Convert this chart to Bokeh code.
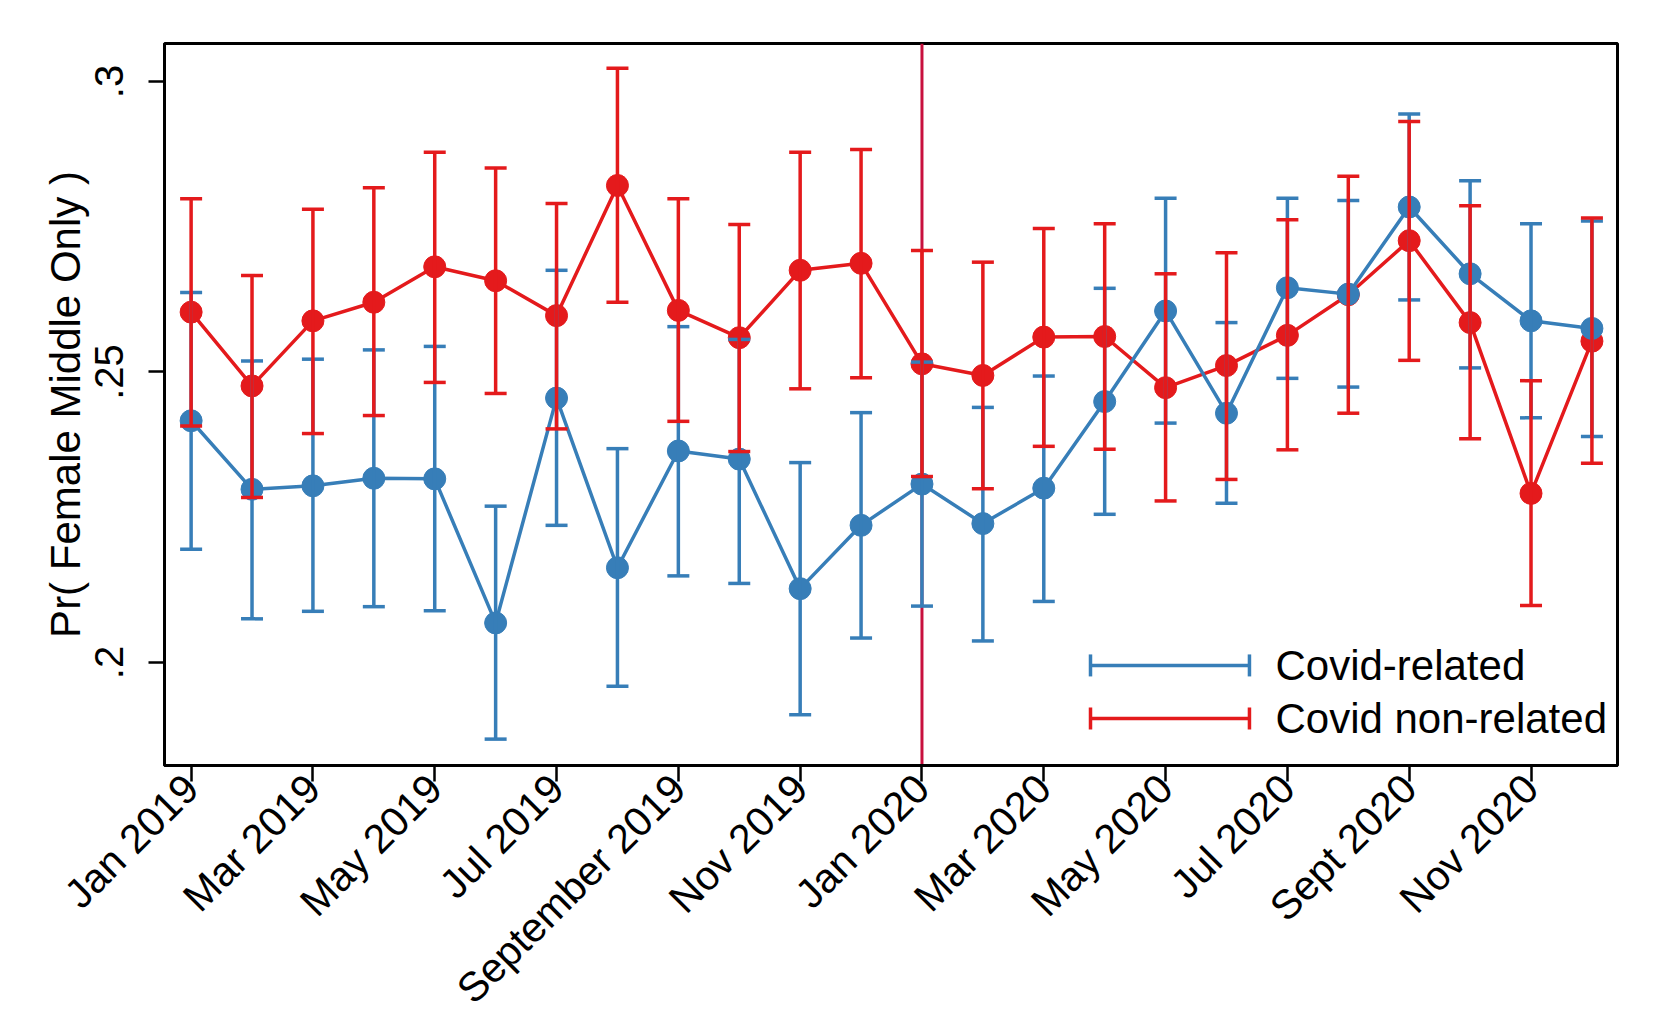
import math
from bokeh.plotting import figure
from bokeh.models import (ColumnDataSource, Whisker, TeeHead, Span, Label, Range1d,
                          FixedTicker)
from bokeh.embed import file_html
from bokeh.resources import INLINE

# ---------------- data ----------------
month_index = list(range(24))
tick_positions = [0, 2, 4, 6, 8, 10, 12, 14, 16, 18, 20, 22]
tick_labels = ["Jan 2019", "Mar 2019", "May 2019", "Jul 2019", "September 2019",
               "Nov 2019", "Jan 2020", "Mar 2020", "May 2020", "Jul 2020",
               "Sept 2020", "Nov 2020"]

covid_mean = [0.2416, 0.2298, 0.2304, 0.2317, 0.2316, 0.2068, 0.2455, 0.2163,
              0.2364, 0.2350, 0.2127, 0.2236, 0.2307, 0.2239, 0.2300, 0.2449,
              0.2605, 0.2429, 0.2645, 0.2634, 0.2784, 0.2669, 0.2588, 0.2575]
covid_hi = [0.2637, 0.2519, 0.2522, 0.2538, 0.2544, 0.2269, 0.2675, 0.2368,
            0.2578, 0.2556, 0.2344, 0.2430, 0.2517, 0.2439, 0.2493, 0.2644,
            0.2799, 0.2585, 0.2799, 0.2795, 0.2944, 0.2829, 0.2755, 0.2760]
covid_lo = [0.2195, 0.2075, 0.2088, 0.2096, 0.2089, 0.1868, 0.2236, 0.1959,
            0.2149, 0.2136, 0.1910, 0.2042, 0.2097, 0.2037, 0.2105, 0.2255,
            0.2412, 0.2274, 0.2489, 0.2474, 0.2624, 0.2507, 0.2421, 0.2389]

noncovid_mean = [0.2603, 0.2476, 0.2588, 0.2620, 0.2681, 0.2657, 0.2597, 0.2821,
                 0.2606, 0.2559, 0.2675, 0.2687, 0.2514, 0.2494, 0.2560, 0.2561,
                 0.2473, 0.2511, 0.2563, 0.2633, 0.2726, 0.2585, 0.2291, 0.2553]
noncovid_hi = [0.2798, 0.2666, 0.2780, 0.2817, 0.2878, 0.2851, 0.2790, 0.3023,
               0.2798, 0.2754, 0.2878, 0.2883, 0.2709, 0.2689, 0.2747, 0.2755,
               0.2669, 0.2705, 0.2762, 0.2837, 0.2931, 0.2786, 0.2485, 0.2765]
noncovid_lo = [0.2407, 0.2284, 0.2394, 0.2425, 0.2482, 0.2463, 0.2402, 0.2620,
               0.2415, 0.2363, 0.2471, 0.2490, 0.2320, 0.2299, 0.2372, 0.2367,
               0.2278, 0.2315, 0.2366, 0.2429, 0.2520, 0.2385, 0.2098, 0.2343]

y_ticks = [0.2, 0.25, 0.3]
y_tick_labels = [".2", ".25", ".3"]
series_names = ["Covid-related", "Covid non-related"]
event_month = 12

BLUE = "#377eb8"
RED = "#e41a1c"
VLINE = "#c8103e"
FONT = "Liberation Sans"

# ---------------- figure ----------------
p = figure(width=1661, height=1031, output_backend="svg", toolbar_location=None,
           x_range=Range1d(-0.437, 23.42), y_range=Range1d(0.18226, 0.30654),
           min_border_left=164, min_border_right=44, min_border_top=43,
           min_border_bottom=266, background_fill_color="white",
           border_fill_color="white")
p.extra_x_ranges = {"fx": Range1d(0, 1)}
p.extra_y_ranges = {"fy": Range1d(0, 1)}

p.xgrid.visible = False
p.ygrid.visible = False
p.outline_line_color = "black"
p.outline_line_width = 3

# vertical reference line
p.add_layout(Span(location=event_month, dimension="height", line_color=VLINE,
                  line_width=3, level="underlay"))

src_c = ColumnDataSource(dict(x=month_index, m=covid_mean, lo=covid_lo, hi=covid_hi))
src_n = ColumnDataSource(dict(x=month_index, m=noncovid_mean, lo=noncovid_lo, hi=noncovid_hi))

for src, col in [(src_c, BLUE), (src_n, RED)]:
    w = Whisker(source=src, base="x", lower="lo", upper="hi", dimension="height",
                line_color=col, line_width=3.5,
                upper_head=TeeHead(size=22, line_color=col, line_width=3.5),
                lower_head=TeeHead(size=22, line_color=col, line_width=3.5),
                level="glyph")
    p.add_layout(w)

for src, col in [(src_n, RED), (src_c, BLUE)]:
    p.line("x", "m", source=src, line_color=col, line_width=3.5)
    p.scatter("x", "m", source=src, size=22, fill_color=col, line_color=col,
              marker="circle")

# ---------------- legend (frame-fraction coordinates) ----------------
leg_src = [ColumnDataSource(dict(y=[0.1386], x0=[0.6373], x1=[0.7467])),
           ColumnDataSource(dict(y=[0.0651], x0=[0.6373], x1=[0.7467]))]
for s, col, name in zip(leg_src, [BLUE, RED], series_names):
    p.add_layout(Whisker(source=s, base="y", lower="x0", upper="x1",
                         dimension="width", x_range_name="fx", y_range_name="fy",
                         line_color=col, line_width=3.5,
                         upper_head=TeeHead(size=22, line_color=col, line_width=3.5),
                         lower_head=TeeHead(size=22, line_color=col, line_width=3.5)))
    p.add_layout(Label(x=0.7646, y=s.data["y"][0], x_range_name="fx",
                       y_range_name="fy", text=name, text_font=FONT,
                       text_font_size="42px", text_baseline="middle",
                       text_color="black"))

# ---------------- axes ----------------
p.xaxis.ticker = FixedTicker(ticks=tick_positions)
p.xaxis.major_label_overrides = {t: l for t, l in zip(tick_positions, tick_labels)}
p.xaxis.major_label_orientation = math.pi / 4
p.yaxis.ticker = FixedTicker(ticks=y_ticks)
p.yaxis.major_label_overrides = {t: l for t, l in zip(y_ticks, y_tick_labels)}
p.yaxis.major_label_orientation = "vertical"
p.yaxis.axis_label = "Pr( Female Middle Only )"

for ax in (p.xaxis[0], p.yaxis[0]):
    ax.axis_line_color = "black"
    ax.axis_line_width = 3
    ax.major_tick_line_color = "black"
    ax.major_tick_line_width = 2.5
    ax.major_tick_out = 16
    ax.major_tick_in = 0
    ax.minor_tick_out = 0
    ax.minor_tick_in = 0
    ax.major_label_text_font = FONT
    ax.major_label_text_color = "black"
    ax.axis_label_text_font = FONT
    ax.axis_label_text_font_size = "42px"
    ax.axis_label_text_font_style = "normal"
    ax.axis_label_text_color = "black"
    ax.axis_label_standoff = 4

p.xaxis[0].major_label_text_font_size = "41px"
p.xaxis[0].major_label_standoff = 0
p.yaxis[0].major_label_text_font_size = "40px"
p.yaxis[0].major_label_standoff = 25

open("out.html", "w").write(file_html(p, INLINE))
